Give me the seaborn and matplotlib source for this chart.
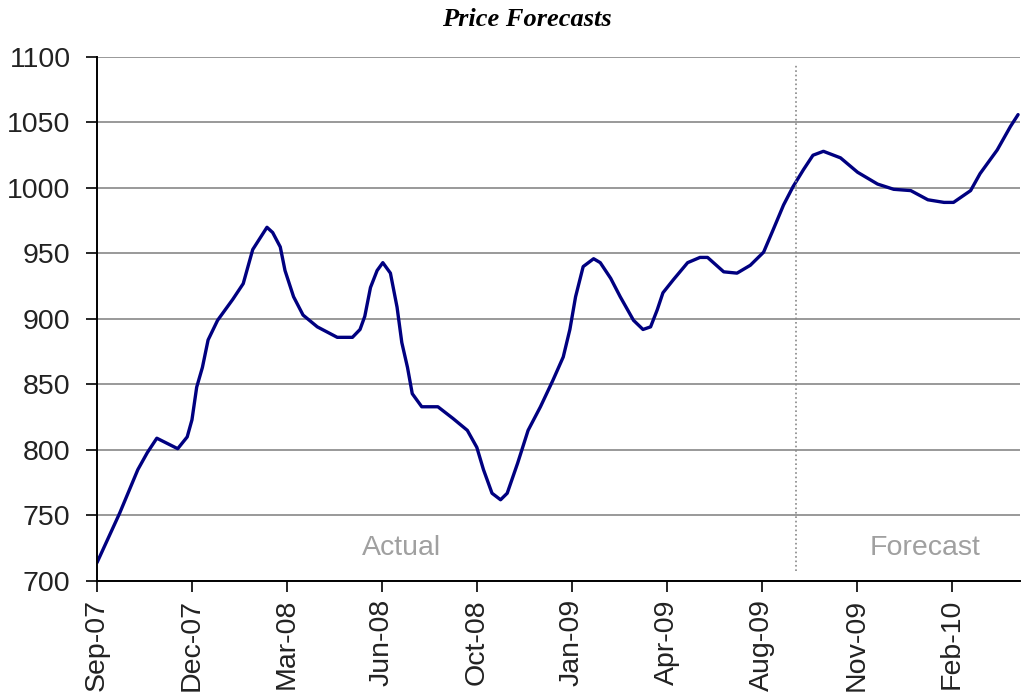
import pandas as pd
import numpy as np
import seaborn as sns
import matplotlib.pyplot as plt
import matplotlib.dates as mdates

# prices (roughly weekly / turning points)
dates = ["2007-09-01", "2007-09-25", "2007-10-14", "2007-10-24", "2007-11-03",
         "2007-11-25", "2007-12-05", "2007-12-10", "2007-12-15", "2007-12-21",
         "2007-12-27", "2008-01-06", "2008-01-22", "2008-02-02", "2008-02-12",
         "2008-02-27", "2008-03-04", "2008-03-12", "2008-03-17", "2008-03-26",
         "2008-04-05", "2008-04-20", "2008-05-11", "2008-05-27", "2008-06-04",
         "2008-06-09", "2008-06-15", "2008-06-22", "2008-06-28", "2008-07-06",
         "2008-07-13", "2008-07-18", "2008-07-24", "2008-07-29", "2008-08-08",
         "2008-08-25", "2008-09-10", "2008-09-25", "2008-10-05", "2008-10-12",
         "2008-10-21", "2008-10-30", "2008-11-06", "2008-11-17", "2008-11-28",
         "2008-12-11", "2008-12-24", "2009-01-04", "2009-01-11", "2009-01-17",
         "2009-01-25", "2009-02-05", "2009-02-12", "2009-02-23", "2009-03-05",
         "2009-03-19", "2009-03-29", "2009-04-06", "2009-04-13", "2009-04-19",
         "2009-04-30", "2009-05-15", "2009-05-28", "2009-06-05", "2009-06-22",
         "2009-07-06", "2009-07-20", "2009-08-03", "2009-08-13", "2009-08-24",
         "2009-09-03", "2009-09-14", "2009-09-24", "2009-10-05", "2009-10-23",
         "2009-11-10", "2009-12-01", "2009-12-18", "2010-01-05", "2010-01-23",
         "2010-02-09", "2010-02-19", "2010-03-09", "2010-03-19", "2010-04-06",
         "2010-04-20", "2010-04-28"]
prices = [714, 752, 785, 798, 809,
          801, 810, 823, 848, 863,
          884, 899, 915, 927, 953,
          970, 966, 955, 937, 917,
          903, 894, 886, 886, 892,
          902, 924, 937, 943, 935,
          909, 882, 863, 843, 833,
          833, 824, 815, 802, 785,
          767, 762, 767, 790, 815,
          833, 853, 871, 892, 917,
          940, 946, 943, 931, 917,
          899, 892, 894, 907, 920,
          930, 943, 947, 947, 936,
          935, 941, 951, 968, 987,
          1001, 1014, 1025, 1028, 1023,
          1012, 1003, 999, 998, 991,
          989, 989, 998, 1011, 1029,
          1047, 1056]

forecast_start = "2009-09-06"
region_labels = ["Actual", "Forecast"]
region_label_dates = ["2008-07-18", "2010-01-20"]

df = pd.DataFrame({"date": pd.to_datetime(dates), "price": prices})

sns.set_style("white")
plt.rcParams['font.family'] = ['Liberation Sans', 'DejaVu Sans']

fig = plt.figure(figsize=(10.21, 7.0), dpi=100)
ax = fig.add_axes([0.095, 0.17, 0.904, 0.7486])

sns.lineplot(data=df, x="date", y="price", color="#000080", linewidth=2.4, ax=ax)

# forecast divider
ax.axvline(pd.Timestamp(forecast_start), ymin=0.02, ymax=0.985, color="#888888",
           linestyle=":", linewidth=1.2)
for lab, d in zip(region_labels, region_label_dates):
    ax.text(pd.Timestamp(d), 725, lab, ha="center", va="center",
            fontsize=20.5, color="#a0a0a0")

ax.set_ylim(700, 1100)
ax.set_yticks(np.arange(700, 1101, 50))
ax.yaxis.grid(True, color="#999999", linewidth=1.4)
ax.set_axisbelow(True)

start = pd.Timestamp("2007-09-01")
ax.set_xlim(start, pd.Timestamp("2010-04-30"))
ticks = pd.date_range(start, periods=10, freq="100D")
ax.set_xticks(ticks)
ax.xaxis.set_major_formatter(mdates.DateFormatter("%b-%y"))
plt.setp(ax.get_xticklabels(), rotation=90)

for s in ["top", "right"]:
    ax.spines[s].set_visible(False)
for s in ["left", "bottom"]:
    ax.spines[s].set_color("black")
    ax.spines[s].set_linewidth(1.4)

ax.tick_params(axis="y", direction="out", length=8, width=1.4, labelsize=20.5,
               left=True, pad=11, labelcolor="#222222")
ax.tick_params(axis="x", direction="out", length=8, width=1.4, labelsize=20.5,
               bottom=True, pad=5, labelcolor="#222222")
ax.set_xlabel("")
ax.set_ylabel("")

fig.text(0.516, 0.972, "Price Forecasts", family="Liberation Serif",
         fontweight="bold", fontstyle="italic", fontsize=19, color="black",
         ha="center", va="center")

fig.savefig("out.png", dpi=100)
